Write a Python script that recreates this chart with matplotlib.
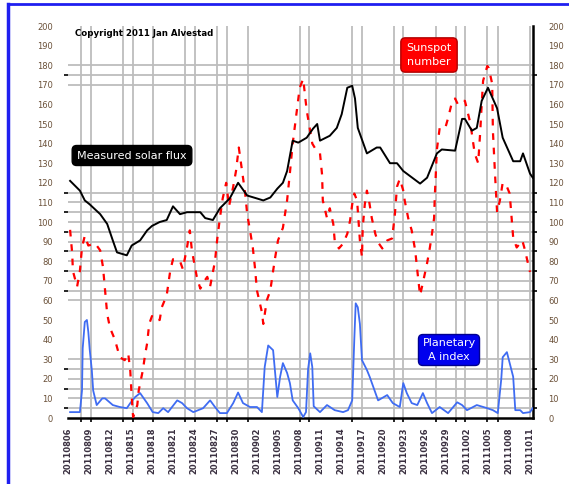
import matplotlib
matplotlib.use("Agg")
import matplotlib.pyplot as plt
from matplotlib.ticker import FixedLocator, NullFormatter

# ---------------- data (x in days from first label) ----------------
flux_day = [0.3, 1.7, 2.4, 3.1, 4.6, 5.6, 6.4, 7.0, 8.4, 9.1, 10.3, 11.3, 12.0, 13.1, 14.1,
            15.0, 16.0, 17.0, 18.9, 19.6, 20.7, 21.7, 23.1, 24.3, 25.6, 27.0, 27.9, 28.9,
            29.9, 30.7, 31.3, 32.1, 32.9, 34.1, 35.0, 35.6, 36.0, 37.4, 38.4, 39.1, 39.9,
            40.6, 41.0, 41.4, 42.7, 44.1, 44.6, 46.0, 47.0, 47.9, 50.3, 51.3, 52.7, 53.4,
            55.3, 56.3, 56.7, 57.7, 58.4, 59.1, 60.0, 61.3, 62.1, 63.6, 64.6, 65.0, 66.0, 66.4]
flux_val = [121, 116, 111, 109, 104, 99, 90.6, 84.5, 83, 88, 90.6, 95.7, 98, 100, 101,
            108, 104, 105, 105, 102, 101, 107, 112, 120, 113.5, 112, 111, 112.5,
            117, 120, 126, 141.5, 140.5, 143, 147.6, 150, 141.5, 144, 148, 155, 168.5,
            169.5, 163, 148, 135, 138, 138, 130, 130, 126, 119.6, 122.6, 135, 137,
            136.4, 152.6, 152.6, 146.6, 148, 161.8, 168.5, 158, 143, 131, 131, 135, 124.7, 122.6]

ssn_day = [0.3, 0.6, 0.7, 1.3, 1.7, 2.0, 2.4, 2.9, 3.9, 4.6, 5.0, 5.3, 5.6, 6.0, 6.7, 7.4,
           8.1, 8.6, 8.9, 9.1, 9.3, 9.9, 10.1, 10.7, 11.0, 11.3, 11.6, 12.0, 12.4, 13.1,
           13.4, 14.1, 14.6, 15.0, 16.0, 16.4, 17.0, 17.4, 17.7, 18.4, 18.9, 19.3, 19.9,
           20.3, 21.0, 21.3, 21.7, 22.1, 22.6, 23.0, 23.6, 24.0, 24.4, 24.9, 25.3, 25.6,
           26.0, 26.4, 26.7, 27.0, 27.7, 27.9, 28.4, 28.9, 29.3, 29.6, 30.0, 30.7, 31.3,
           31.7, 32.1, 32.7, 33.1, 33.6, 34.1, 34.9, 35.4, 36.0, 36.3, 36.4, 37.0, 37.4,
           37.9, 38.1, 38.7, 39.3, 39.9, 40.3, 40.6, 40.9, 41.3, 41.7, 42.0, 42.1, 42.4,
           42.7, 43.0, 43.4, 43.9, 44.3, 44.9, 45.6, 46.3, 46.7, 47.0, 47.4, 47.9, 48.1,
           48.6, 49.1, 49.6, 50.0, 50.3, 50.7, 51.3, 51.7, 52.0, 52.3, 52.4, 52.7, 53.1,
           53.9, 54.3, 54.9, 55.3, 55.7, 56.3, 56.7, 57.4, 57.7, 58.1, 58.6, 58.9, 59.1,
           59.3, 59.9, 60.1, 60.6, 60.7, 61.0, 61.3, 61.7, 62.1, 62.7, 63.1, 63.4, 63.6,
           64.1, 64.9, 65.3, 65.7, 66.0]
ssn_val = [96, 84, 75, 67, 75, 87, 93, 88, 89, 85.5, 77, 65, 53, 46, 40, 31,
           29.5, 33, 24, 10.7, 0.5, 6.6, 14, 24.5, 32, 38, 48, 52, 50, 50,
           56.5, 62.6, 75, 81, 80, 76, 87, 95.7, 85.5, 72, 66, 69, 72,
           67, 80, 90.6, 102, 112, 120, 108, 118, 126, 138, 125, 115, 104,
           95.7, 87, 77, 65, 54, 48, 60, 65, 75, 82, 90.6, 97, 111,
           125, 140, 157, 168.5, 173, 157, 140, 137, 135, 124, 111, 102, 107,
           99, 90.6, 86.5, 89, 94, 100.8, 109, 114.5, 111, 90.6, 82, 97, 109,
           116, 111, 102, 94, 89.6, 86.5, 90.6, 91.6, 104, 118, 122, 116, 111,
           102, 95.7, 85.5, 72, 62.6, 69, 79, 87, 94, 102, 113, 137, 148,
           148, 153, 161.8, 163, 160, 161.8, 161.8, 151.6, 145, 135, 130, 146.6, 160,
           172, 179.6, 178.6, 170.5, 146.6, 124.7, 105, 111, 120, 118, 114.5, 100.8, 92,
           87, 90.6, 85.5, 79, 74.5]

ap_day = [0.3, 1.7, 2.0, 2.1, 2.4, 2.7, 2.9, 3.1, 3.4, 3.6, 4.1, 4.9, 5.3, 6.4, 7.4, 8.4,
          8.9, 9.6, 10.3, 11.3, 12.1, 12.9, 13.6, 14.3, 15.6, 16.3, 17.0, 17.9, 19.3, 20.3,
          21.0, 21.7, 22.7, 23.6, 24.3, 25.0, 26.0, 27.0, 27.7, 28.1, 28.6, 29.3, 29.9,
          30.3, 30.7, 31.3, 31.7, 32.1, 32.9, 33.6, 34.0, 34.3, 34.6, 34.9, 35.1, 36.0,
          37.0, 38.1, 39.3, 40.0, 40.6, 40.9, 41.1, 41.4, 41.7, 42.0, 42.7, 43.1, 43.6,
          44.3, 45.6, 46.4, 47.4, 47.9, 48.4, 49.1, 49.9, 50.7, 51.3, 52.0, 53.1, 54.3,
          55.6, 56.3, 57.0, 58.4, 59.9, 60.7, 61.4, 61.9, 62.1, 62.7, 63.1, 63.6, 63.9,
          64.6, 65.0, 66.0, 66.4]
ap_val = [3, 3, 14, 35.6, 49, 50, 44, 35, 24.5, 14, 6.6, 10, 10, 6.6, 5.6, 5,
          7.6, 10.7, 12.7, 7.6, 3, 2.5, 5, 3, 9, 7.6, 5, 3, 5, 9,
          5.6, 2.5, 2.5, 7.6, 13, 7.6, 5.6, 5.6, 3, 26, 37, 34.6, 10.7,
          21, 28, 23, 17.8, 9, 5, 0.5, 3, 25, 33, 26, 6, 3,
          6.6, 4, 3, 4, 9, 40, 58.5, 56.5, 48, 29.5, 24.5, 21, 16,
          9, 11.7, 7.6, 5.6, 17.8, 12.7, 7.6, 6.6, 12.7, 7.6, 2.5, 5.6, 2.5,
          8, 6.6, 4, 6.6, 5, 4, 2.5, 20, 31, 33.6, 28, 21, 4,
          4, 2.5, 3, 5]

date_labels = ["20110806", "20110809", "20110812", "20110815", "20110818", "20110821",
               "20110824", "20110827", "20110830", "20110902", "20110905", "20110908",
               "20110911", "20110914", "20110917", "20110920", "20110923", "20110926",
               "20110929", "20111002", "20111005", "20111008", "20111011"]
label_days = [3 * i for i in range(len(date_labels))]

vgrid_days = [1.9, 3.3, 7.9, 9.3, 12.1, 16.7, 18.1, 21.3, 22.7, 25.7, 33.1, 34.4, 40.6,
              42.0, 46.6, 47.9, 52.6, 55.4, 56.7, 59.9, 61.4, 66.0]
hgrid_vals = [5, 10, 15, 20, 25, 30, 60, 65, 70, 75, 80, 85, 90, 95, 100, 105, 110, 115,
              170, 175, 180]
ylabels = list(range(0, 201, 10))

# ---------------- figure ----------------
W, H = 569, 484
fig = plt.figure(figsize=(W / 100, H / 100), dpi=100)
fig.patch.set_facecolor("white")

# blue frame (left and top)
fig.add_artist(plt.Line2D([8 / W, 8 / W], [0, 1 - 4 / H], color="#1f1ff0", lw=2.5))
fig.add_artist(plt.Line2D([8 / W, 1], [1 - 4 / H, 1 - 4 / H], color="#1f1ff0", lw=2.0))

ax = fig.add_axes([68 / W, 1 - 418 / H, (533 - 68) / W, (418 - 26) / H])
ax.set_xlim(0, 66.43)
ax.set_ylim(0, 200)

grid_col = "#bdbdbd"
for d in vgrid_days:
    ax.axvline(d, color=grid_col, lw=1.3, zorder=1)
for v in hgrid_vals:
    ax.axhline(v, color=grid_col, lw=1.3, zorder=1)

ax.plot(ap_day, ap_val, color="#3f6cf2", lw=1.3, zorder=3)
ax.plot(ssn_day, ssn_val, color="#ff0000", lw=1.6, dashes=(3, 3.5), zorder=4)
ax.plot(flux_day, flux_val, color="black", lw=1.4, zorder=5)

for s in ["top", "left"]:
    ax.spines[s].set_visible(False)
ax.spines["right"].set_linewidth(1.8)
ax.spines["bottom"].set_linewidth(1.8)

lab_col = "#6a5038"
ax.yaxis.set_major_locator(FixedLocator(ylabels))
ax.yaxis.set_minor_locator(FixedLocator(hgrid_vals))
ax.yaxis.set_minor_formatter(NullFormatter())
ax.tick_params(axis="y", which="major", length=0, labelsize=6, labelcolor=lab_col,
               left=True, right=True, labelleft=True, labelright=True, pad=11)
ax.tick_params(axis="y", which="minor", length=3, width=1.2, direction="out",
               left=True, right=True, color="black")
ax.xaxis.set_major_locator(FixedLocator(label_days))
ax.set_xticklabels(date_labels, rotation=90, fontsize=6, fontweight="bold", color="#3a3040")
ax.xaxis.set_minor_locator(FixedLocator(vgrid_days))
ax.tick_params(axis="x", which="major", length=0, pad=7)
ax.tick_params(axis="x", which="minor", length=3, width=1.2, direction="out", color="black")

# annotations
fig.text(75 / W, 1 - 34 / H, "Copyright 2011 Jan Alvestad", fontsize=6.2, fontweight="bold",
         color="black", ha="left", va="center")
fig.text(132 / W, 1 - 155.5 / H, "Measured solar flux", fontsize=8, color="white",
         ha="center", va="center",
         bbox=dict(boxstyle="round,pad=0.45,rounding_size=0.4", fc="black", ec="black"))
fig.text(429 / W, 1 - 55 / H, "Sunspot\nnumber", fontsize=8, color="white",
         ha="center", va="center", linespacing=1.4,
         bbox=dict(boxstyle="round,pad=0.5,rounding_size=0.4", fc="#ff0000", ec="#b00000"))
fig.text(449 / W, 1 - 350 / H, "Planetary\nA index", fontsize=8, color="white",
         ha="center", va="center", linespacing=1.4,
         bbox=dict(boxstyle="round,pad=0.35,rounding_size=0.4", fc="#0000ee", ec="#000090"))

fig.savefig("out.png", dpi=100)
